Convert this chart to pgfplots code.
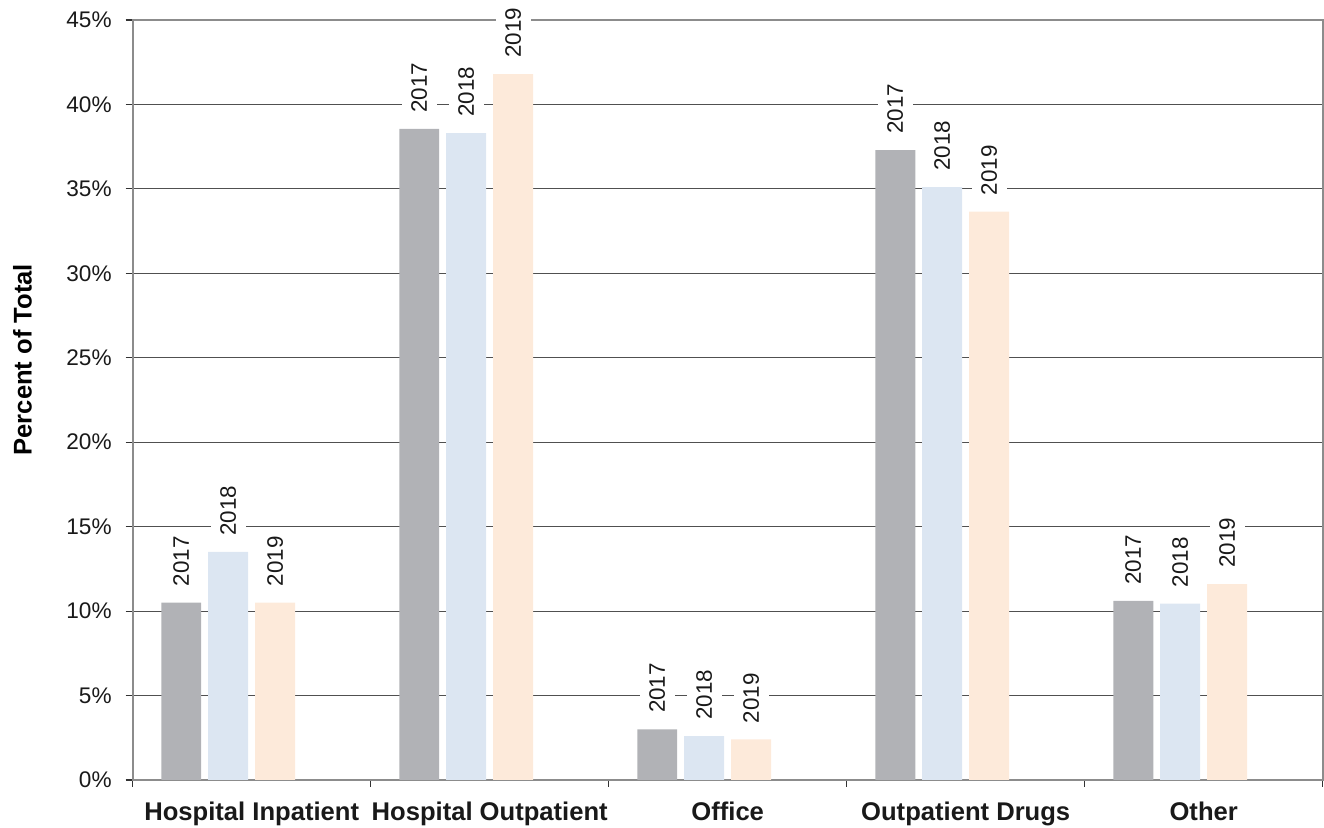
\documentclass[border=0pt]{standalone}
\usepackage{fontspec}
\setmainfont{Liberation Sans}
\usepackage{pgfplots}
\pgfplotsset{compat=1.18}

\definecolor{bar17}{RGB}{177,178,182}
\definecolor{bar18}{RGB}{220,230,242}
\definecolor{bar19}{RGB}{253,234,218}
\definecolor{gridc}{RGB}{80,80,80}
\definecolor{framec}{RGB}{140,140,140}

\begin{document}
\begin{tikzpicture}
\begin{axis}[
    scale only axis,
    width=595pt, height=380pt,
    ybar,
    xmin=-0.5, xmax=4.5,
    ymin=0, ymax=45,
    bar width=0.168,
    xtick={0,1,2,3,4},
    xticklabels={Hospital Inpatient,Hospital Outpatient,Office,Outpatient Drugs,Other},
    major x tick style={draw=none},
    minor xtick={-0.5,0.5,1.5,2.5,3.5,4.5},
    minor tick length=3.5pt,
    minor x tick style={draw=black!80, line width=0.6pt},
    ytick={0,5,...,45},
    yticklabel={\pgfmathprintnumber[assume math mode=true]{\tick}\%},
    major tick length=3.5pt,
    tick align=outside,
    tick pos=left,
    ymajorgrids,
    major grid style={gridc, line width=0.5pt},
    axis line style={framec, line width=1pt},
    y tick style={draw=black!80, line width=0.6pt},
    ticklabel style={font=\fontsize{11.3}{13}\selectfont, text=black!90},
    yticklabel style={xshift=-3.5pt},
    xticklabel style={font=\fontsize{12.8}{15}\selectfont\bfseries, yshift=-4pt},
    ylabel={Percent of Total},
    every axis y label/.style={at={(axis description cs:-0.0926,0.553)}, rotate=90,
        anchor=center, font=\fontsize{12.8}{15}\selectfont\bfseries},
    every node near coord/.append style={rotate=90, anchor=west, fill=white,
        inner xsep=3pt, inner ysep=4.7pt, text=black!90,
        font=\fontsize{11.2}{13}\selectfont, xshift=5pt},
]
\addplot[fill=bar17, draw=none, bar shift=-0.296, nodes near coords={2017}] coordinates {
    (0,10.5) (1,38.55) (2,3.0) (3,37.3) (4,10.6)
};
\addplot[fill=bar18, draw=none, bar shift=-0.0988, nodes near coords={2018}] coordinates {
    (0,13.5) (1,38.3) (2,2.6) (3,35.1) (4,10.45)
};
\addplot[fill=bar19, draw=none, bar shift=0.0988, nodes near coords={2019}] coordinates {
    (0,10.5) (1,41.8) (2,2.4) (3,33.65) (4,11.6)
};
\end{axis}
\pgfresetboundingbox
\path ([shift={(-66.35pt,-23.65pt)}]current axis.south west)
    rectangle ([shift={(0.65pt,10pt)}]current axis.north east);
\end{tikzpicture}
\end{document}
